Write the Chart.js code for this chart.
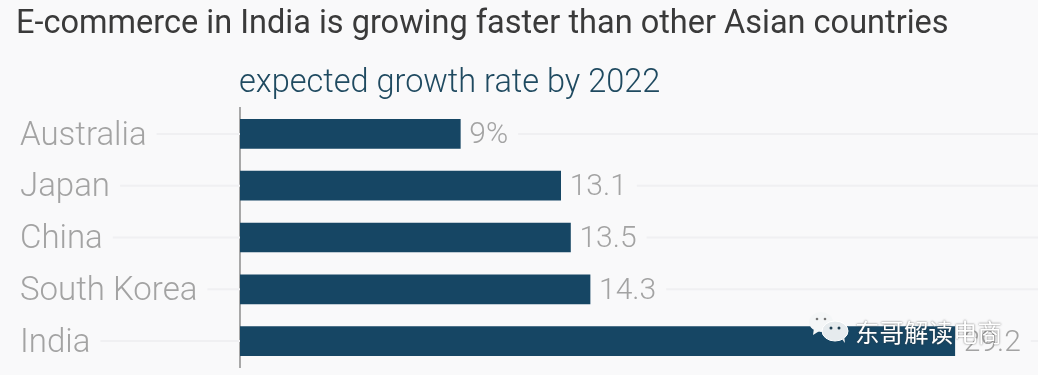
<!DOCTYPE html>
<html>
<head>
<meta charset="utf-8">
<script src="https://cdn.jsdelivr.net/npm/chart.js@4"></script>
<style>
  html, body { margin: 0; padding: 0; background: #f9f9fa; overflow: hidden; }
  #wrap { position: relative; width: 1038px; height: 375px; }
  canvas { position: absolute; left: 0; top: 0; }
  .txt { position: absolute; white-space: nowrap; font-family: Roboto, sans-serif; }
  #title { left: 16px; top: 3px; font-size: 32.5px; color: #3a3a3a; }
  #subtitle { left: 239px; top: 62px; font-size: 32.5px; font-weight: 300; color: #1f4a60; }
  #mark { left: 855px; top: 314px; font-family: "Noto Sans CJK SC", sans-serif; font-size: 24.5px; color: #fff; text-shadow: 0 0 2px rgba(60,60,60,.8); }
  #icon { position: absolute; left: 808px; top: 311px; }
</style>
</head>
<body>
<div id="wrap">
  <canvas id="chart" width="1038" height="375"></canvas>
  <div class="txt" id="title">E-commerce in India is growing faster than other Asian countries</div>
  <div class="txt" id="subtitle">expected growth rate by 2022</div>
  <svg id="icon" width="42" height="32" viewBox="0 0 42 32">
    <ellipse cx="13" cy="11" rx="12" ry="10" fill="#f4f6f7"/>
    <path d="M6 17 L5 24 L13 19 Z" fill="#f4f6f7"/>
    <circle cx="9" cy="8" r="1.3" fill="#777"/>
    <circle cx="17" cy="8" r="1.3" fill="#777"/>
    <ellipse cx="27" cy="20" rx="13" ry="10" fill="#e6ebee" stroke="#fff"/>
    <path d="M33 27 L37 32 L36 24 Z" fill="#e6ebee"/>
    <circle cx="23" cy="17" r="1.5" fill="#1f3f52"/>
    <circle cx="31" cy="17" r="1.5" fill="#1f3f52"/>
  </svg>
  <div class="txt" id="mark">东哥解读电商</div>
</div>
<script>
const categories = ['Australia', 'Japan', 'China', 'South Korea', 'India'];
const growthValues = [9, 13.1, 13.5, 14.3, 29.2];
const valueLabels = ['9%', '13.1', '13.5', '14.3', '29.2'];

const nameFontSize = 33;
const valueFont = '300 30px Roboto, sans-serif';
const labelColor = '#a3a3a3';
const gridColor = '#f0f0f2';

// grid lines stop short of the category and value labels
const brokenGrid = {
  id: 'brokenGrid',
  beforeDatasetsDraw(chart) {
    const { ctx, chartArea, scales } = chart;
    ctx.save();
    ctx.strokeStyle = gridColor;
    ctx.lineWidth = 2;
    categories.forEach((name, i) => {
      const y = scales.y.getPixelForValue(i);
      ctx.font = `300 ${nameFontSize}px Roboto, sans-serif`;
      const nameEnd = 20 + ctx.measureText(name).width + 10;
      ctx.font = valueFont;
      const valueEnd = scales.x.getPixelForValue(growthValues[i]) + 9 + ctx.measureText(valueLabels[i]).width + 10;
      ctx.beginPath();
      ctx.moveTo(nameEnd, y);
      ctx.lineTo(chartArea.left, y);
      ctx.moveTo(valueEnd, y);
      ctx.lineTo(chartArea.right, y);
      ctx.stroke();
    });
    ctx.restore();
  }
};

const valueText = {
  id: 'valueText',
  afterDatasetsDraw(chart) {
    const { ctx, scales } = chart;
    ctx.save();
    ctx.font = valueFont;
    ctx.fillStyle = labelColor;
    ctx.textBaseline = 'middle';
    valueLabels.forEach((text, i) => {
      ctx.fillText(text, scales.x.getPixelForValue(growthValues[i]) + 9, scales.y.getPixelForValue(i) + 2);
    });
    ctx.restore();
  }
};

new Chart(document.getElementById('chart'), {
  type: 'bar',
  data: {
    labels: categories,
    datasets: [{
      data: growthValues,
      backgroundColor: '#164664',
      barThickness: 29,
    }],
  },
  options: {
    indexAxis: 'y',
    responsive: false,
    animation: false,
    layout: { autoPadding: false, padding: { left: 20, top: 108, bottom: 8, right: 0 } },
    plugins: { legend: { display: false }, tooltip: { enabled: false } },
    scales: {
      x: {
        min: 0,
        max: 32.6,
        grid: { display: false, tickLength: 0 },
        border: { display: false },
        ticks: { display: false },
      },
      y: {
        afterFit(scale) {
          scale.width = 220;
          // the label height would otherwise eat into the bottom of the plot
          scale.paddingTop = 0;
          scale.paddingBottom = 0;
        },
        grid: { display: false },
        border: { display: true, color: '#a8a8a8', width: 2 },
        ticks: {
          crossAlign: 'far',
          labelOffset: 2.5,
          color: labelColor,
          font: { family: 'Roboto, sans-serif', size: nameFontSize, weight: '300' },
        },
      },
    },
  },
  plugins: [brokenGrid, valueText],
});
</script>
</body>
</html>
